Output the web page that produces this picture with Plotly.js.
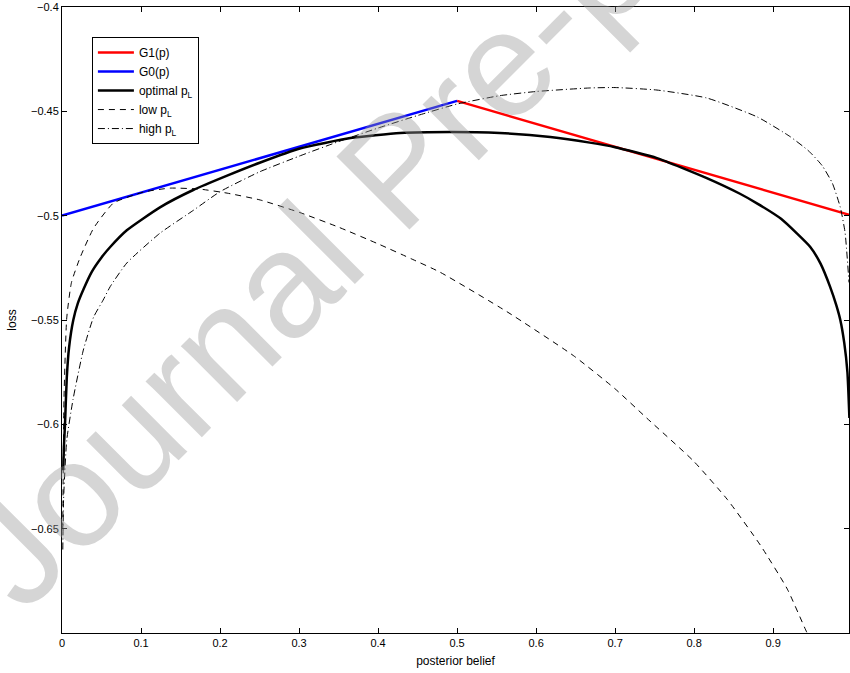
<!DOCTYPE html>
<html>
<head>
<meta charset="utf-8">
<script src="https://cdn.plot.ly/plotly-3.0.1.min.js"></script>
<style>html,body{margin:0;padding:0;background:#fff;}#chart{width:850px;height:673px;}</style>
</head>
<body>
<div id="chart"></div>
<script>
// G1(p) and G0(p) linear segments
const g1X = [0.5, 1.0];
const g1Y = [-0.445, -0.5];
const g0X = [0.0, 0.5];
const g0Y = [-0.5, -0.445];

// optimal p_L
const optX = [0.0015, 0.0025, 0.0038, 0.006, 0.009, 0.0143, 0.020, 0.0275, 0.0375, 0.050, 0.061, 0.082, 0.124, 0.166, 0.209, 0.251, 0.301, 0.365, 0.428, 0.491, 0.554, 0.618, 0.668, 0.700, 0.753, 0.816, 0.858, 0.880, 0.910, 0.930, 0.947, 0.960, 0.972, 0.980, 0.985, 0.990, 0.994, 0.9965];
const optY = [-0.622, -0.610, -0.600, -0.578, -0.563, -0.550, -0.542, -0.535, -0.527, -0.520, -0.515, -0.507, -0.496, -0.4877, -0.4808, -0.4745, -0.4678, -0.4628, -0.4604, -0.4599, -0.4604, -0.4623, -0.4650, -0.4672, -0.4724, -0.482, -0.4895, -0.4942, -0.5015, -0.5085, -0.515, -0.523, -0.534, -0.543, -0.550, -0.561, -0.575, -0.597];

// low p_L
const lowX = [0.001, 0.0025, 0.006, 0.012, 0.023, 0.040, 0.065, 0.103, 0.137, 0.175, 0.209, 0.251, 0.301, 0.350, 0.400, 0.444, 0.478, 0.563, 0.647, 0.700, 0.740, 0.799, 0.842, 0.884, 0.918, 0.943, 0.960];
const lowY = [-0.650, -0.588, -0.549, -0.532, -0.520, -0.506, -0.494, -0.4887, -0.4868, -0.4873, -0.4892, -0.4925, -0.4985, -0.5055, -0.5135, -0.521, -0.527, -0.546, -0.567, -0.583, -0.597, -0.6175, -0.636, -0.658, -0.679, -0.700, -0.712];

// high p_L
const highX = [0.001, 0.002, 0.006, 0.014, 0.027, 0.040, 0.052, 0.061, 0.082, 0.124, 0.166, 0.200, 0.250, 0.300, 0.350, 0.400, 0.450, 0.500, 0.554, 0.600, 0.668, 0.700, 0.753, 0.816, 0.880, 0.921, 0.945, 0.962, 0.975, 0.985, 0.991, 0.996];
const highY = [-0.660, -0.636, -0.6076, -0.588, -0.5644, -0.5486, -0.5405, -0.534, -0.5227, -0.5084, -0.4975, -0.4885, -0.479, -0.4715, -0.4645, -0.458, -0.452, -0.4465, -0.4425, -0.4405, -0.4388, -0.4386, -0.4398, -0.4436, -0.4527, -0.4620, -0.4690, -0.4760, -0.4845, -0.4960, -0.508, -0.532];

const xTicks = [0, 0.1, 0.2, 0.3, 0.4, 0.5, 0.6, 0.7, 0.8, 0.9];
const yTicks = [-0.65, -0.6, -0.55, -0.5, -0.45, -0.4];

const FONT = 'Liberation Sans, Arial, Helvetica, sans-serif';

const traces = [
  {x: g1X, y: g1Y, mode: 'lines', name: 'G1(p)', line: {color: '#ff0000', width: 2.5}},
  {x: g0X, y: g0Y, mode: 'lines', name: 'G0(p)', line: {color: '#0000ff', width: 2.5}},
  {x: optX, y: optY, mode: 'lines', name: 'optimal p<sub>L</sub>', line: {color: '#000000', width: 2.5, shape: 'spline', smoothing: 0.5}},
  {x: lowX, y: lowY, mode: 'lines', name: 'low p<sub>L</sub>', line: {color: '#000000', width: 1, dash: '6px,5px', shape: 'spline', smoothing: 0.5}},
  {x: highX, y: highY, mode: 'lines', name: 'high p<sub>L</sub>', line: {color: '#000000', width: 1, dash: '7px,3px,1px,3px', shape: 'spline', smoothing: 0.5}}
];

const axisBase = {
  showgrid: false, zeroline: false, showline: true, linecolor: '#000', linewidth: 1,
  ticks: 'inside', ticklen: 5, tickcolor: '#000', mirror: 'ticks',
  tickfont: {family: FONT, size: 11, color: '#000'}
};

const layout = {
  width: 850, height: 673,
  margin: {l: 62, r: 1, t: 7, b: 40},
  paper_bgcolor: '#fff', plot_bgcolor: '#fff',
  font: {family: FONT, color: '#000'},
  showlegend: true,
  legend: {x: 0.038, y: 0.952, xanchor: 'left', yanchor: 'top', bgcolor: '#fff', bordercolor: '#000', borderwidth: 1, itemwidth: 36, font: {family: FONT, size: 12, color: '#000'}},
  xaxis: Object.assign({}, axisBase, {range: [0, 0.996], tickvals: xTicks, title: {text: 'posterior belief', font: {family: FONT, size: 12}, standoff: 8}}),
  yaxis: Object.assign({}, axisBase, {range: [-0.7, -0.4], tickvals: yTicks, title: {text: 'loss', font: {family: FONT, size: 12}, standoff: 11}}),
  annotations: [{
    xref: 'paper', yref: 'paper', x: 0.425, y: 0.741, xanchor: 'center', yanchor: 'middle', showarrow: false,
    text: 'Journal Pre-proof', textangle: -45,
    font: {family: FONT, size: 150, color: 'rgba(150,150,150,0.4)'}
  }]
};

Plotly.newPlot('chart', traces, layout, {staticPlot: true, displayModeBar: false});
</script>
</body>
</html>
